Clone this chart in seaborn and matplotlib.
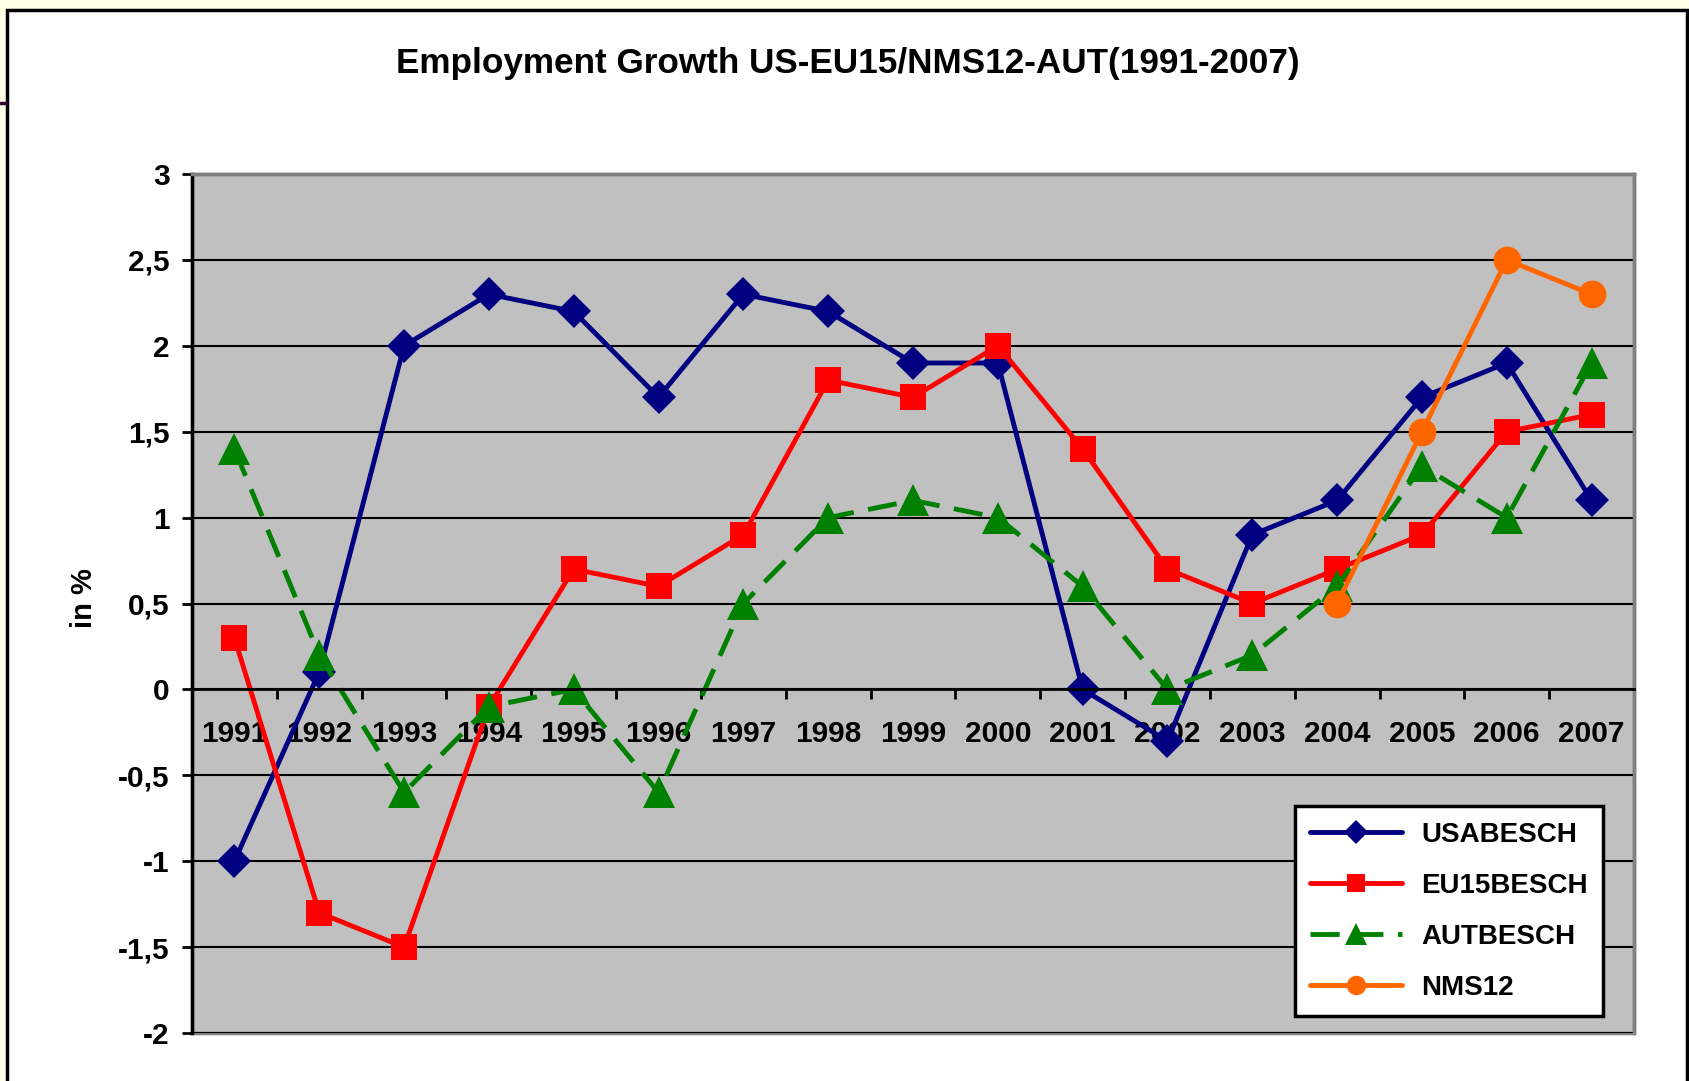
import matplotlib
matplotlib.use('Agg')
import matplotlib.pyplot as plt
import seaborn as sb
import pandas as pd
from matplotlib.patches import Rectangle
from matplotlib.lines import Line2D
from matplotlib.ticker import FuncFormatter

years = ['1991', '1992', '1993', '1994', '1995', '1996', '1997', '1998', '1999',
         '2000', '2001', '2002', '2003', '2004', '2005', '2006', '2007']
usa = [-1.0, 0.1, 2.0, 2.3, 2.2, 1.7, 2.3, 2.2, 1.9, 1.9, 0.0, -0.3, 0.9, 1.1, 1.7, 1.9, 1.1]
eu15 = [0.3, -1.3, -1.5, -0.1, 0.7, 0.6, 0.9, 1.8, 1.7, 2.0, 1.4, 0.7, 0.5, 0.7, 0.9, 1.5, 1.6]
aut = [1.4, 0.2, -0.6, -0.1, 0.0, -0.6, 0.5, 1.0, 1.1, 1.0, 0.6, 0.0, 0.2, 0.6, 1.3, 1.0, 1.9]
nms_years = ['2004', '2005', '2006', '2007']
nms12 = [0.5, 1.5, 2.5, 2.3]

sb.set_style('white')
plt.rcParams['font.family'] = ['Liberation Sans', 'DejaVu Sans']
plt.rcParams['font.weight'] = 'bold'
for key in ['text.color', 'axes.labelcolor', 'xtick.color', 'ytick.color']:
    plt.rcParams[key] = 'black'

fig = plt.figure(figsize=(16.9, 10.81), dpi=100)
fig.patch.set_facecolor('#FFFFE6')
# white chart area with black frame
fig.patches.append(Rectangle((7 / 1690, -0.01), 1680 / 1690, 1 - 10 / 1081 + 0.01,
                             transform=fig.transFigure, facecolor='white',
                             edgecolor='black', linewidth=2.5, zorder=-5))
fig.lines.append(Line2D([0, 7 / 1690], [1 - 103 / 1081] * 2, transform=fig.transFigure,
                        color='#330033', linewidth=2.5, zorder=-4))

ax = fig.add_axes([192 / 1690, 48 / 1081, 1442 / 1690, 859 / 1081])
ax.set_facecolor('#C0C0C0')

df = pd.DataFrame({'year': years, 'USABESCH': usa, 'EU15BESCH': eu15, 'AUTBESCH': aut})
df_nms = pd.DataFrame({'year': nms_years, 'NMS12': nms12})

sb.lineplot(data=df, x='year', y='USABESCH', ax=ax, color='#000080', marker='D',
            markersize=17, markeredgewidth=0, linewidth=3.5, label='USABESCH', sort=False)
sb.lineplot(data=df, x='year', y='EU15BESCH', ax=ax, color='#FF0000', marker='s',
            markersize=19, markeredgewidth=0, linewidth=3.5, label='EU15BESCH', sort=False)
sb.lineplot(data=df, x='year', y='AUTBESCH', ax=ax, color='#008000', marker='^',
            markersize=23, markeredgewidth=0, linewidth=3.5, label='AUTBESCH', sort=False,
            dashes=False, linestyle=(0, (6, 3)))
sb.lineplot(data=df_nms, x='year', y='NMS12', ax=ax, color='#FF6600', marker='o',
            markersize=20, markeredgewidth=0, linewidth=3.5, label='NMS12', sort=False)

ax.set_xlim(-0.5, 16.5)
ax.set_ylim(-2, 3)
ax.set_yticks([-2, -1.5, -1, -0.5, 0, 0.5, 1, 1.5, 2, 2.5, 3])
ax.yaxis.set_major_formatter(FuncFormatter(lambda v, p: ('%g' % v).replace('.', ',')))
ax.grid(axis='y', color='black', linewidth=1.5)
ax.grid(axis='x', visible=False)
ax.set_axisbelow(True)

ax.set_xticks(range(len(years)))
ax.set_xticklabels(years)
ax.set_xticks([i + 0.5 for i in range(len(years) - 1)], minor=True)
ax.tick_params(axis='x', which='major', length=0, pad=22, labelsize=21.5)
ax.tick_params(axis='x', which='minor', length=7, width=2, direction='out', color='black',
               bottom=True)
ax.tick_params(axis='y', length=7, width=2, direction='out', color='black',
               pad=9, labelsize=21.5, left=True)
for lab in ax.get_xticklabels() + ax.get_yticklabels():
    lab.set_fontweight('bold')

ax.spines['bottom'].set_position(('data', 0))
ax.spines['bottom'].set_color('black')
ax.spines['bottom'].set_linewidth(2)
ax.spines['left'].set_color('black')
ax.spines['left'].set_linewidth(2.5)
ax.spines['top'].set_color('#808080')
ax.spines['top'].set_linewidth(2.5)
ax.spines['right'].set_color('#808080')
ax.spines['right'].set_linewidth(2.5)
ax.patch.set_edgecolor('#808080')
ax.patch.set_linewidth(2.5)

ax.set_xlabel('')
ax.set_ylabel('')
fig.text(84 / 1690, 1 - 598 / 1081, 'in %', rotation=90, ha='center', va='center',
         fontsize=21, fontweight='bold')
fig.text(848 / 1690, 1 - 64 / 1081, 'Employment Growth US-EU15/NMS12-AUT(1991-2007)',
         ha='center', va='center', fontsize=25.3, fontweight='bold')

leg = ax.legend(loc='lower right', bbox_to_anchor=(1603 / 1690, 1 - 1016 / 1081),
                bbox_transform=fig.transFigure, frameon=True, fancybox=False,
                edgecolor='black', framealpha=1, fontsize=20, handlelength=3.3,
                markerscale=0.7, borderpad=0.55, labelspacing=0.9, handletextpad=0.7,
                borderaxespad=0)
leg.get_frame().set_linewidth(2.5)
for t in leg.get_texts():
    t.set_fontweight('bold')

fig.savefig('out.png', dpi=100, facecolor=fig.get_facecolor())
